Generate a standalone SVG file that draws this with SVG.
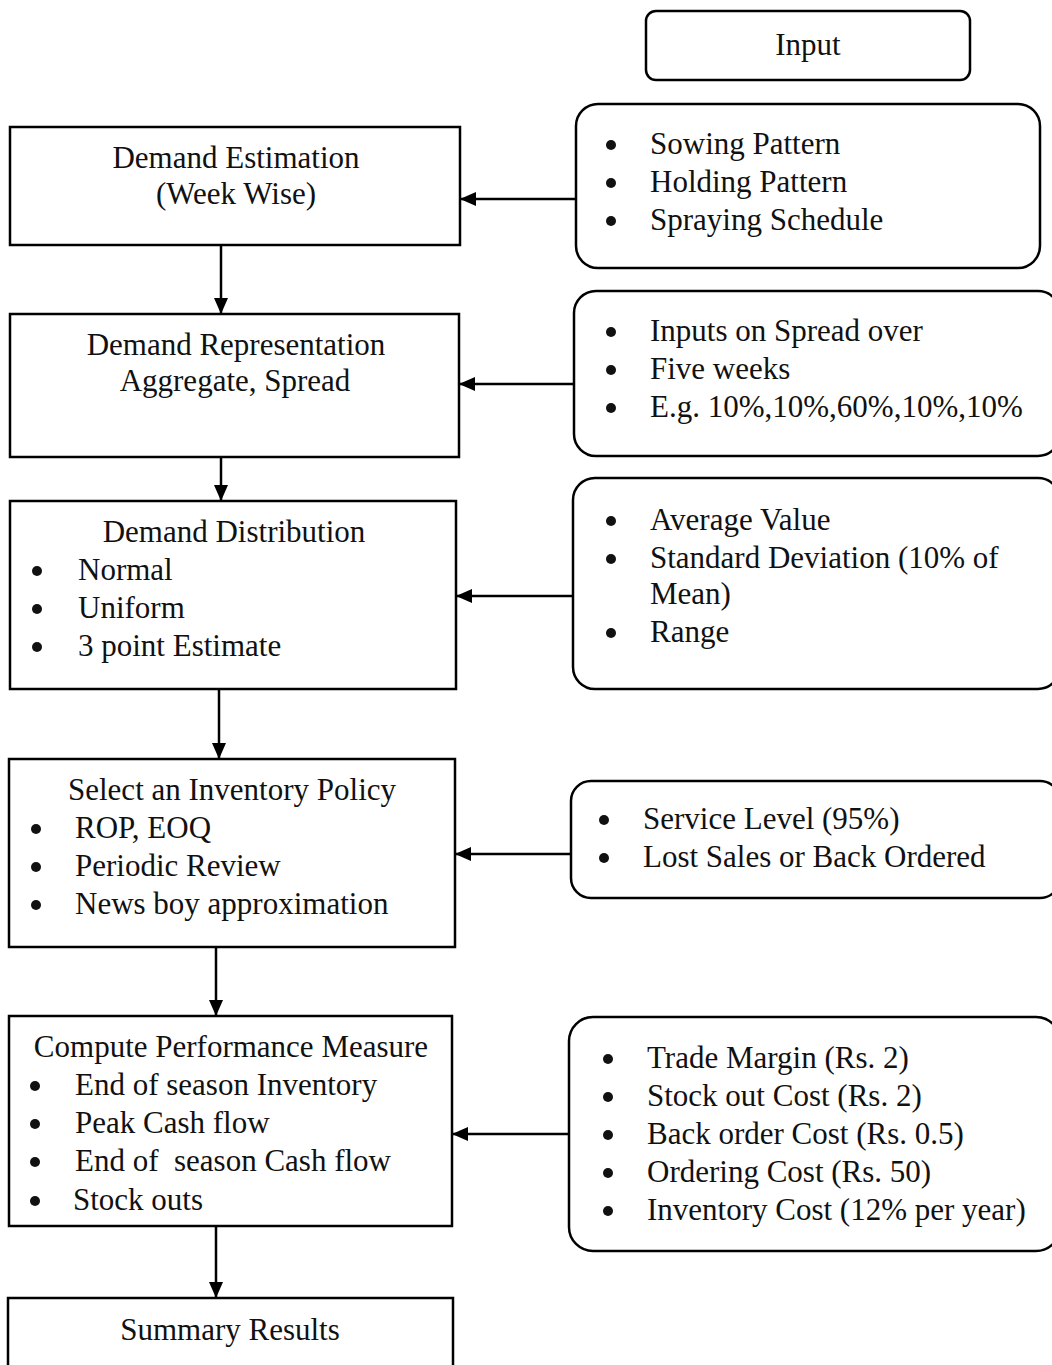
<svg xmlns="http://www.w3.org/2000/svg" width="1052" height="1365" viewBox="0 0 1052 1365">
<defs>
<style>
.box{fill:#fff;stroke:#000;stroke-width:2.5}
.t{font-family:"Liberation Serif","Times New Roman",serif;font-size:31px;fill:#111}
.c{text-anchor:middle}
.b{fill:#111}
.ln{stroke:#000;stroke-width:2.5;fill:none}
</style>
<marker id="ah" viewBox="0 0 16 14" refX="16" refY="7" markerWidth="16" markerHeight="14" markerUnits="userSpaceOnUse" orient="auto">
<path d="M0,0 L16,7 L0,14 Z" fill="#000"/>
</marker>
</defs>
<rect width="1052" height="1365" fill="#fff"/>

<g id="connectors">
<line class="ln" x1="576" y1="199" x2="460" y2="199" marker-end="url(#ah)"/>
<line class="ln" x1="574" y1="384" x2="459" y2="384" marker-end="url(#ah)"/>
<line class="ln" x1="573" y1="596" x2="456" y2="596" marker-end="url(#ah)"/>
<line class="ln" x1="571" y1="854" x2="455" y2="854" marker-end="url(#ah)"/>
<line class="ln" x1="569" y1="1134" x2="452" y2="1134" marker-end="url(#ah)"/>
<line class="ln" x1="221" y1="245" x2="221" y2="314" marker-end="url(#ah)"/>
<line class="ln" x1="221" y1="457" x2="221" y2="501" marker-end="url(#ah)"/>
<line class="ln" x1="219" y1="689" x2="219" y2="759" marker-end="url(#ah)"/>
<line class="ln" x1="216" y1="947" x2="216" y2="1016" marker-end="url(#ah)"/>
<line class="ln" x1="216" y1="1226" x2="216" y2="1298" marker-end="url(#ah)"/>
</g>

<g id="input">
<rect class="box" x="646" y="11" width="324" height="69" rx="10"/>
<text class="t c" x="808" y="55">Input</text>
</g>

<g id="demand-estimation">
<rect class="box" x="10" y="127" width="450" height="118"/>
<text class="t c" x="236" y="168">Demand Estimation</text>
<text class="t c" x="236" y="204">(Week Wise)</text>
</g>

<g id="demand-representation">
<rect class="box" x="10" y="314" width="449" height="143"/>
<text class="t c" x="236" y="355">Demand Representation</text>
<text class="t c" x="235" y="391">Aggregate, Spread</text>
</g>

<g id="demand-distribution">
<rect class="box" x="10" y="501" width="446" height="188"/>
<text class="t c" x="234" y="542">Demand Distribution</text>
<circle class="b" cx="37" cy="571" r="5"/><text class="t" x="78" y="580">Normal</text>
<circle class="b" cx="37" cy="609" r="5"/><text class="t" x="78" y="618">Uniform</text>
<circle class="b" cx="37" cy="647" r="5"/><text class="t" x="78" y="656">3 point Estimate</text>
</g>

<g id="inventory-policy">
<rect class="box" x="9" y="759" width="446" height="188"/>
<text class="t c" x="232" y="800">Select an Inventory Policy</text>
<circle class="b" cx="36" cy="829" r="5"/><text class="t" x="75" y="838">ROP, EOQ</text>
<circle class="b" cx="36" cy="867" r="5"/><text class="t" x="75" y="876">Periodic Review</text>
<circle class="b" cx="36" cy="905" r="5"/><text class="t" x="75" y="914">News boy approximation</text>
</g>

<g id="performance-measure">
<rect class="box" x="9" y="1016" width="443" height="210"/>
<text class="t c" x="231" y="1057">Compute Performance Measure</text>
<circle class="b" cx="35" cy="1086" r="5"/><text class="t" x="75" y="1095">End of season Inventory</text>
<circle class="b" cx="35" cy="1124" r="5"/><text class="t" x="75" y="1133">Peak Cash flow</text>
<circle class="b" cx="35" cy="1162" r="5"/><text class="t" x="75" y="1171" xml:space="preserve">End of  season Cash flow</text>
<circle class="b" cx="35" cy="1201" r="5"/><text class="t" x="73" y="1210">Stock outs</text>
</g>

<g id="summary-results">
<rect class="box" x="8" y="1298" width="445" height="80"/>
<text class="t c" x="230" y="1340">Summary Results</text>
</g>

<g id="input-patterns">
<rect class="box" x="576" y="104" width="464" height="164" rx="22"/>
<circle class="b" cx="611" cy="145" r="5"/><text class="t" x="650" y="154">Sowing Pattern</text>
<circle class="b" cx="611" cy="183" r="5"/><text class="t" x="650" y="192">Holding Pattern</text>
<circle class="b" cx="611" cy="221" r="5"/><text class="t" x="650" y="230">Spraying Schedule</text>
</g>

<g id="input-spread">
<rect class="box" x="574" y="291" width="486" height="165" rx="22"/>
<circle class="b" cx="611" cy="332" r="5"/><text class="t" x="650" y="341">Inputs on Spread over</text>
<circle class="b" cx="611" cy="370" r="5"/><text class="t" x="650" y="379">Five weeks</text>
<circle class="b" cx="611" cy="408" r="5"/><text class="t" x="650" y="417">E.g. 10%,10%,60%,10%,10%</text>
</g>

<g id="input-distribution">
<rect class="box" x="573" y="478" width="487" height="211" rx="22"/>
<circle class="b" cx="611" cy="521" r="5"/><text class="t" x="650" y="530">Average Value</text>
<circle class="b" cx="611" cy="559" r="5"/><text class="t" x="650" y="568">Standard Deviation (10% of</text>
<text class="t" x="650" y="604">Mean)</text>
<circle class="b" cx="611" cy="633" r="5"/><text class="t" x="650" y="642">Range</text>
</g>

<g id="input-policy">
<rect class="box" x="571" y="781" width="489" height="117" rx="20"/>
<circle class="b" cx="604" cy="820" r="5"/><text class="t" x="643" y="829">Service Level (95%)</text>
<circle class="b" cx="604" cy="858" r="5"/><text class="t" x="643" y="867">Lost Sales or Back Ordered</text>
</g>

<g id="input-costs">
<rect class="box" x="569" y="1017" width="491" height="234" rx="24"/>
<circle class="b" cx="608" cy="1059" r="5"/><text class="t" x="647" y="1068">Trade Margin (Rs. 2)</text>
<circle class="b" cx="608" cy="1097" r="5"/><text class="t" x="647" y="1106">Stock out Cost (Rs. 2)</text>
<circle class="b" cx="608" cy="1135" r="5"/><text class="t" x="647" y="1144">Back order Cost (Rs. 0.5)</text>
<circle class="b" cx="608" cy="1173" r="5"/><text class="t" x="647" y="1182">Ordering Cost (Rs. 50)</text>
<circle class="b" cx="608" cy="1211" r="5"/><text class="t" x="647" y="1220">Inventory Cost (12% per year)</text>
</g>
</svg>
